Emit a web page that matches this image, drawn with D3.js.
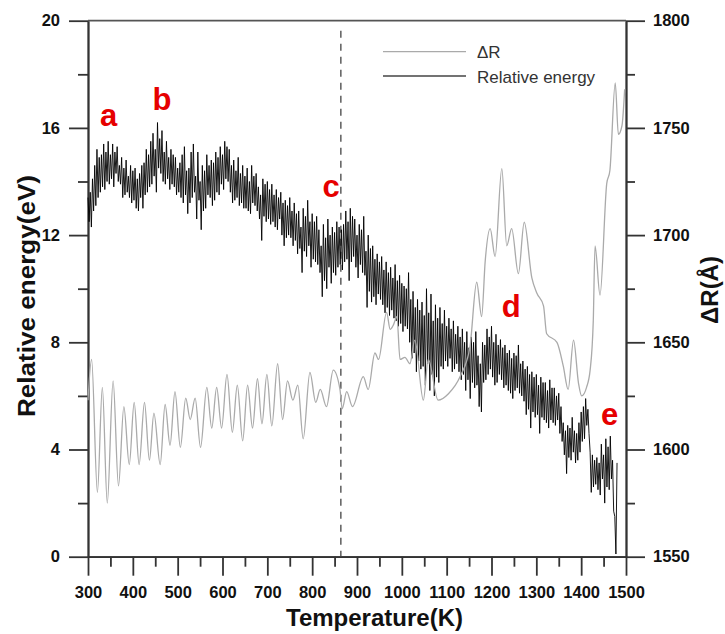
<!DOCTYPE html>
<html>
<head>
<meta charset="utf-8">
<script src="https://cdn.jsdelivr.net/npm/d3@7.9.0/dist/d3.min.js"></script>
<style>
  html, body { margin: 0; padding: 0; background: #fff; }
  svg { display: block; font-family: "Liberation Sans", Arial, sans-serif; }
  .tick text { font-weight: bold; font-size: 16.5px; fill: #111; }
</style>
</head>
<body>
<svg id="chart" width="725" height="634"></svg>
<script>
// Relative energy (eV), sampled every 2.5 K from 300 K
const energyStart = 300;
const energyStep = 2.5;
const energy = [
  13.4,12.5, 13.6,12.3, 14.1,12.9, 14.6,13.1, 15.2,13.4, 14.9,13.6, 15.0,13.8, 15.4,13.7, 15.1,14.0, 15.5,13.9,
  15.0,14.1, 15.4,13.8, 15.1,14.3, 15.3,14.0, 14.6,13.9, 14.9,13.4, 14.5,13.5, 14.8,13.6, 14.2,13.4, 14.6,13.2,
  14.4,13.3, 14.5,13.0, 14.1,12.9, 14.3,13.4, 14.6,13.0, 14.7,13.5, 15.2,13.6, 15.0,13.8, 15.5,13.9, 15.8,14.2,
  15.2,13.6, 16.2,14.5, 15.6,14.3, 15.9,14.0, 15.1,13.9, 15.5,14.1, 14.9,13.7, 15.2,13.9, 15.0,13.8, 14.9,13.5,
  14.5,13.6, 14.7,13.4, 15.0,13.2, 15.3,13.5, 14.4,12.8, 14.5,13.2, 15.1,13.4, 15.4,13.6, 14.2,12.6, 15.1,13.3,
  14.0,12.2, 14.6,12.9, 14.4,13.0, 15.0,13.5, 14.6,13.4, 14.8,13.1, 14.7,13.3, 15.1,13.6, 14.9,13.5, 15.3,13.9,
  15.0,13.7, 15.5,14.1, 15.3,14.0, 15.2,13.6, 14.6,13.2, 14.8,13.3, 14.4,13.4, 14.9,13.1, 14.3,13.2, 14.6,13.0,
  14.2,13.0, 14.5,12.9, 14.0,12.8, 14.6,13.2, 14.2,13.1, 14.3,12.9, 13.8,12.6, 13.5,11.8, 14.1,12.7, 13.9,12.5,
  14.0,12.6, 13.7,12.4, 13.9,12.5, 13.5,12.3, 13.7,12.2, 13.4,12.6, 13.6,12.0, 13.2,11.6, 13.3,11.9, 13.1,12.0,
  13.4,11.9, 12.9,11.6, 13.2,11.8, 12.8,11.3, 12.9,11.5, 12.3,10.6, 13.0,11.4, 12.7,11.2, 13.3,11.6, 12.5,10.8,
  12.8,11.1, 12.5,11.0, 12.7,10.9, 12.2,10.6, 11.6,9.7, 12.4,10.3, 11.9,10.0, 12.6,10.8, 12.0,10.2, 12.3,10.6,
  12.1,10.5, 12.5,10.8, 12.3,10.9, 12.2,10.7, 12.4,11.0, 12.9,11.1, 12.5,10.3, 13.0,11.0, 12.7,11.2, 12.6,10.8,
  12.0,10.4, 12.4,10.9, 12.2,10.6, 12.7,10.5, 11.4,9.3, 12.0,9.9, 11.5,9.5, 11.6,9.7, 11.1,9.4, 11.3,9.8,
  11.0,9.6, 11.2,9.4, 10.7,9.1, 11.0,9.3, 10.6,9.0, 10.8,9.2, 10.4,8.9, 10.9,8.8, 10.3,8.6, 10.5,8.7,
  10.2,8.4, 10.1,8.6, 10.0,8.5, 10.6,8.0, 9.6,7.4, 9.9,7.6, 9.3,6.9, 9.6,7.3, 9.2,7.0, 9.5,7.1,
  9.0,6.4, 10.0,7.2, 9.1,6.2, 9.8,6.8, 8.8,6.0, 9.4,6.7, 8.9,6.5, 9.3,7.1, 8.7,7.0, 9.2,7.3,
  8.6,7.1, 8.9,7.4, 8.5,6.9, 8.8,7.0, 8.3,7.2, 8.6,6.9, 8.2,6.6, 8.5,6.8, 8.0,6.2, 8.4,6.6,
  7.8,5.9, 8.2,6.5, 8.0,6.3, 8.4,6.4, 7.5,5.6, 7.2,5.4, 8.0,6.5, 7.9,6.6, 8.5,6.8, 8.2,7.0,
  8.6,6.7, 8.0,6.4, 8.3,6.5, 7.9,6.8, 8.1,6.6, 7.8,6.3, 7.9,6.4, 7.6,6.2, 7.7,6.1, 7.4,5.9,
  7.6,6.2, 7.5,6.3, 7.9,6.1, 7.2,6.0, 7.3,5.8, 7.0,5.3, 7.1,5.5, 6.8,4.8, 6.9,5.4, 6.7,5.2,
  6.8,5.3, 6.4,4.6, 6.7,5.2, 6.5,5.1, 6.5,5.0, 6.2,4.8, 6.6,5.1, 6.3,5.0, 6.3,4.9, 6.0,5.1,
  6.1,4.6, 5.6,4.3, 5.0,3.8, 4.7,3.1, 4.9,3.7, 4.8,3.6, 5.2,3.9, 4.7,3.5, 4.6,3.6, 5.0,3.9,
  5.4,4.3, 5.6,4.4, 5.9,4.9, 5.5,4.6, 3.9,2.4, 3.8,2.6, 3.6,2.7, 3.7,2.5, 3.5,2.3, 4.2,2.9,
  3.8,2.0, 4.4,2.6, 4.1,2.5, 4.5,2.9, 3.6,1.7, 1.5,0.1, 3.5
];

// ΔR (Å): temperatures of the peaks / troughs and their values
const dRTemps = [
  300,308,321,332,343,356,368,380,392,403,414,426,437,447,461,472,483,494,506,518,
  528,539,551,565,576,587,598,610,622,633,645,656,667,678,688,699,710,723,734,745,
  757,768,780,795,808,818,832,847,862,867,877,890,914,925,940,948,966,974,981,989,
  996,1007,1018,1029,1048,1059,1081,1104,1130,1152,1167,1178,1186,1197,1208,1223,1234,1245,1260,1273,
  1290,1301,1316,1323,1346,1360,1371,1383,1394,1401,1412,1420,1427,1431,1442,1457,1464,1476,1483,1491,1497
];
const dRValues = [
  1623,1642,1580,1629,1575,1632,1583,1620,1593,1622,1593,1622,1595,1617,1593,1621,1602,1627,1601,1624,
  1614,1624,1601,1629,1610,1629,1610,1635,1608,1630,1604,1630,1610,1633,1612,1635,1611,1640,1614,1632,
  1623,1630,1605,1636,1622,1628,1620,1637,1628,1619,1627,1620,1634,1628,1645,1642,1664,1656,1658,1662,
  1642,1643,1640,1651,1623,1642,1623,1626,1634,1648,1678,1662,1688,1703,1690,1731,1695,1703,1682,1706,
  1680,1673,1667,1654,1650,1639,1628,1651,1631,1625,1629,1637,1660,1695,1672,1724,1730,1771,1747,1751,1768
];

const tempTicks = [300,400,500,600,700,800,900,1000,1100,1200,1300,1400,1500];
const energyTicks = [0,4,8,12,16,20];
const dRTicks = [1550,1600,1650,1700,1750,1800];
const transitionT = 864;

const stageLabels = ['a','b','c','d','e'];
const stageT = [327, 444, 823, 1223, 1444];
const stageE = [16.07, 16.67, 13.41, 8.94, 4.91];

const svg = d3.select('#chart');
const plotLeft = 88, plotRight = 626, plotTop = 20.7, plotBottom = 556.7;

const x = d3.scaleLinear().domain([300, 1500]).range([plotLeft, plotRight]);
const y = d3.scaleLinear().domain([0, 20]).range([plotBottom, plotTop]);
const yR = d3.scaleLinear().domain([1550, 1800]).range([plotBottom, plotTop]);
const fmt = d3.format('d');

// minor ticks
svg.append('g').attr('transform', `translate(0,${plotBottom})`)
  .call(d3.axisBottom(x).tickValues(d3.range(350, 1500, 100)).tickSize(10).tickFormat('').tickSizeOuter(0));
svg.append('g').attr('transform', `translate(${plotLeft},0)`)
  .call(d3.axisLeft(y).tickValues([2,6,10,14,18]).tickSize(10).tickFormat('').tickSizeOuter(0));
svg.append('g').attr('transform', `translate(${plotRight},0)`)
  .call(d3.axisRight(yR).tickValues([1575,1625,1675,1725,1775]).tickSize(9).tickFormat('').tickSizeOuter(0));

// major ticks
svg.append('g').attr('transform', `translate(0,${plotBottom})`)
  .call(d3.axisBottom(x).tickValues(tempTicks).tickFormat(fmt).tickSize(19).tickPadding(11).tickSizeOuter(0));
svg.append('g').attr('transform', `translate(${plotLeft},0)`)
  .call(d3.axisLeft(y).tickValues(energyTicks).tickFormat(fmt).tickSize(19).tickPadding(9).tickSizeOuter(0));
svg.append('g').attr('transform', `translate(${plotRight},0)`)
  .call(d3.axisRight(yR).tickValues(dRTicks).tickFormat(fmt).tickSize(19).tickPadding(8).tickSizeOuter(0));

svg.selectAll('.domain, .tick line').attr('stroke', '#333').attr('stroke-width', 1.8);

svg.append('line')
  .attr('x1', plotLeft).attr('x2', plotRight).attr('y1', plotTop).attr('y2', plotTop)
  .attr('stroke', '#555').attr('stroke-width', 1.7);

// dashed transition line
svg.append('line')
  .attr('x1', x(transitionT)).attr('x2', x(transitionT))
  .attr('y1', plotTop + 10).attr('y2', plotBottom)
  .attr('stroke', '#444').attr('stroke-width', 1.3)
  .attr('stroke-dasharray', '7,6');

// relative energy
const energyLine = d3.line()
  .x((d, i) => x(energyStart + i * energyStep))
  .y(d => y(d));
svg.append('path')
  .attr('d', energyLine(energy))
  .attr('fill', 'none').attr('stroke', '#000').attr('stroke-width', 0.9)
  .attr('stroke-linejoin', 'bevel');

// ΔR
const dRLine = d3.line()
  .x((d, i) => x(dRTemps[i]))
  .y(d => yR(d))
  .curve(d3.curveMonotoneX);
svg.append('path')
  .attr('d', dRLine(dRValues))
  .attr('fill', 'none').attr('stroke', '#aaa').attr('stroke-width', 1.3);

// legend
const legend = svg.append('g');
legend.append('line').attr('x1', 383).attr('x2', 466).attr('y1', 51.7).attr('y2', 51.7)
  .attr('stroke', '#aaa').attr('stroke-width', 1.3);
legend.append('line').attr('x1', 383).attr('x2', 466).attr('y1', 76).attr('y2', 76)
  .attr('stroke', '#444').attr('stroke-width', 1.5);
legend.append('text').attr('x', 477).attr('y', 58.3).text('ΔR')
  .attr('font-size', 17).attr('fill', '#333');
legend.append('text').attr('x', 477).attr('y', 82.7).text('Relative energy')
  .attr('font-size', 17).attr('fill', '#333');

// stage letters
svg.selectAll('.stage').data(stageLabels).join('text')
  .attr('class', 'stage')
  .attr('x', (d, i) => x(stageT[i]))
  .attr('y', (d, i) => y(stageE[i]))
  .attr('fill', '#e60000').attr('font-weight', 'bold').attr('font-size', 31)
  .text(d => d);

// axis titles
svg.append('text')
  .attr('x', 374.5).attr('y', 626).attr('text-anchor', 'middle')
  .attr('font-weight', 'bold').attr('font-size', 24).attr('fill', '#111')
  .text('Temperature(K)');
svg.append('text')
  .attr('transform', 'translate(35,296) rotate(-90)')
  .attr('text-anchor', 'middle')
  .attr('font-weight', 'bold').attr('font-size', 23).attr('fill', '#111')
  .attr('textLength', 242).attr('lengthAdjust', 'spacingAndGlyphs')
  .text('Relative energy(eV)');
svg.append('text')
  .attr('transform', 'translate(718,290) rotate(-90)')
  .attr('text-anchor', 'middle')
  .attr('font-weight', 'bold').attr('font-size', 24).attr('fill', '#111')
  .text('ΔR(Å)');
</script>
</body>
</html>
